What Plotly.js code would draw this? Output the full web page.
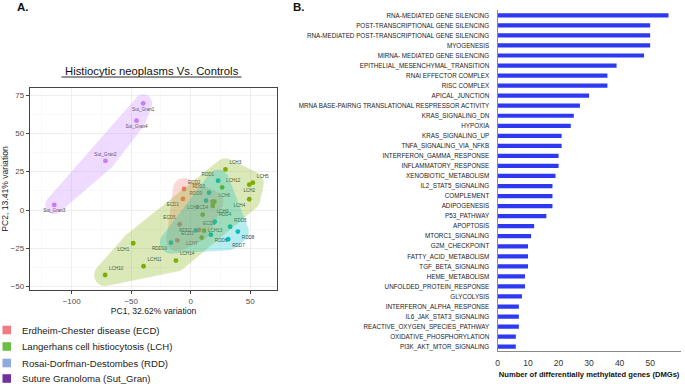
<!DOCTYPE html>
<html><head><meta charset="utf-8">
<script src="https://cdn.plot.ly/plotly-3.0.1.min.js"></script>
<style>html,body{margin:0;padding:0;background:#fff}#chart{width:685px;height:384px}</style>
</head><body><div id="chart"></div>
<script>
// ---------- Panel A data (PCA) ----------
const sampleNames = ['ECD1','ECD2','ECD3','ECD4','ECD5','ECD6',
  'LCH1','LCH2','LCH3','LCH4','LCH5','LCH6','LCH7','LCH8','LCH9','LCH10','LCH11','LCH12','LCH13','LCH14',
  'RDD1','RDD2','RDD3','RDD4','RDD5','RDD6','RDD7','RDD8','RDD9','RDD10',
  'Sut_Gran1','Sut_Gran2','Sut_Gran3','Sut_Gran4'];
const pc1 = [-6.5,-5.6,-11.2,18.2,-9.3,7.0,
  -48.3,49.2,29.2,49.2,52.2,19.9,9.3,10.1,18.5,-71.9,-39.6,26.4,11.2,-12.4,
  23.0,4.2,15.4,20.2,33.1,16.9,31.5,39.6,12.9,-16.6,
  -39.9,-71.6,-114.6,-45.5];
const pc2 = [7.2,13.7,-19.8,5.4,-9.3,-13.0,
  -21.7,16.5,26.5,7.0,17.8,5.4,-18.0,-3.0,2.6,-42.4,-36.7,14.8,-13.5,-33.0,
  19.1,-13.3,11.3,-7.6,-10.9,-16.1,-19.1,-14.1,6.1,-21.3,
  69.6,32.0,3.3,58.3];
const sampleGroup = ['ECD','ECD','ECD','ECD','ECD','ECD',
  'LCH','LCH','LCH','LCH','LCH','LCH','LCH','LCH','LCH','LCH','LCH','LCH','LCH','LCH',
  'RDD','RDD','RDD','RDD','RDD','RDD','RDD','RDD','RDD','RDD',
  'Sut_Gran','Sut_Gran','Sut_Gran','Sut_Gran'];
const labelPos = ['bottom left','top right','top right','bottom left','top left','top right',
  'bottom left','bottom center','top right','bottom left','top right','top right','bottom left','top left','bottom right','top right','top right','top right','middle right','top right',
  'top left','middle left','top left','top right','top right','bottom right','bottom right','bottom right','top left','bottom left',
  'bottom center','top center','bottom center','bottom center'];
const groupNames = ['ECD','LCH','RDD','Sut_Gran'];
const groupColors = ['#F8766D','#7CAE00','#00BFC4','#C77CFF'];
const legendLabels = ['Erdheim-Chester disease (ECD)','Langerhans cell histiocytosis (LCH)','Rosai-Dorfman-Destombes (RDD)','Suture Granoloma (Sut_Gran)'];
const legendColors = ['#F27B82','#6DBE45','#8FAADC','#7030A0'];

// ---------- Panel B data (bars) ----------
const pathways = ['RNA-MEDIATED GENE SILENCING','POST-TRANSCRIPTIONAL GENE SILENCING','RNA-MEDIATED POST-TRANSCRIPTIONAL GENE SILENCING',
  'MYOGENESIS','MIRNA- MEDIATED GENE SILENCING','EPITHELIAL_MESENCHYMAL_TRANSITION','RNAI EFFECTOR COMPLEX','RISC COMPLEX',
  'APICAL_JUNCTION','MRNA BASE-PAIRNG TRANSLATIONAL RESPRESSOR ACTIVITY','KRAS_SIGNALING_DN','HYPOXIA','KRAS_SIGNALING_UP',
  'TNFA_SIGNALING_VIA_NFKB','INTERFERON_GAMMA_RESPONSE','INFLAMMATORY_RESPONSE','XENOBIOTIC_METABOLISM','IL2_STAT5_SIGNALING',
  'COMPLEMENT','ADIPOGENESIS','P53_PATHWAY','APOPTOSIS','MTORC1_SIGNALING','G2M_CHECKPOINT','FATTY_ACID_METABOLISM',
  'TGF_BETA_SIGNALING','HEME_METABOLISM','UNFOLDED_PROTEIN_RESPONSE','GLYCOLYSIS','INTERFERON_ALPHA_RESPONSE',
  'IL6_JAK_STAT3_SIGNALING','REACTIVE_OXYGEN_SPECIES_PATHWAY','OXIDATIVE_PHOSPHORYLATION','PI3K_AKT_MTOR_SIGNALING'];
const dmgCounts = [56,50,50,50,48,39,36,36,30,27,25,24,21,21,20,20,19,18,18,18,16,12,11,10,10,10,9,9,8,7,7,7,6,6];

// ---------- geometry ----------
const W = 685, H = 384;
const pA = {l:30, r:277, t:88, b:290};
const xRangeA = [-135, 72.5], yRangeA = [-52.2, 79.6];
const sx = (pA.r - pA.l) / (xRangeA[1] - xRangeA[0]);
const sy = (pA.b - pA.t) / (yRangeA[1] - yRangeA[0]);
const pB = {l:497.5, r:680.7, t:10, b:350.7};
const hullRadius = {ECD:11, LCH:11, RDD:11, Sut_Gran:9};

function convexHull(pts){
  const p = pts.slice().sort((a,b)=>a[0]-b[0]||a[1]-b[1]);
  const cross=(o,a,b)=>(a[0]-o[0])*(b[1]-o[1])-(a[1]-o[1])*(b[0]-o[0]);
  const lower=[],upper=[];
  for(const q of p){while(lower.length>=2&&cross(lower[lower.length-2],lower[lower.length-1],q)<=0)lower.pop();lower.push(q);}
  for(let i=p.length-1;i>=0;i--){const q=p[i];while(upper.length>=2&&cross(upper[upper.length-2],upper[upper.length-1],q)<=0)upper.pop();upper.push(q);}
  upper.pop();lower.pop();return lower.concat(upper);
}
function expandHull(h, r){
  const out=[]; const n=h.length;
  for(let i=0;i<n;i++){
    const prev=h[(i-1+n)%n], cur=h[i], next=h[(i+1)%n];
    const e1=[cur[0]-prev[0],cur[1]-prev[1]], e2=[next[0]-cur[0],next[1]-cur[1]];
    const a1=Math.atan2(-e1[0], e1[1]), a2=Math.atan2(-e2[0], e2[1]);
    let sweep=a2-a1; while(sweep<0)sweep+=2*Math.PI; while(sweep>=2*Math.PI)sweep-=2*Math.PI;
    const steps=Math.max(2,Math.ceil(sweep/0.15));
    for(let k=0;k<=steps;k++){const a=a1+sweep*k/steps;out.push([cur[0]+r*Math.cos(a),cur[1]+r*Math.sin(a)]);}
  }
  return out;
}
function hexA(h,a){const r=parseInt(h.slice(1,3),16),g=parseInt(h.slice(3,5),16),b=parseInt(h.slice(5,7),16);return `rgba(${r},${g},${b},${a})`;}

const traces = [];
// points + labels
groupNames.forEach((g,gi)=>{
  const idx = sampleGroup.map((s,i)=>s===g?i:-1).filter(i=>i>=0);
  traces.push({type:'scatter',mode:'markers+text',xaxis:'x',yaxis:'y',
    x:idx.map(i=>pc1[i]), y:idx.map(i=>pc2[i]), text:idx.map(i=>sampleNames[i]),
    textposition:idx.map(i=>labelPos[i]),
    textfont:{size:4.6,color:'#3a3a3a',family:'Liberation Sans, Arial'},
    marker:{size:4.8,color:groupColors[gi]}, showlegend:false, hoverinfo:'text', cliponaxis:false});
});
// hulls (expanded convex hulls computed from the sample coordinates)
groupNames.forEach((g,gi)=>{
  const idx = sampleGroup.map((s,i)=>s===g?i:-1).filter(i=>i>=0);
  const pts = idx.map(i=>[pc1[i]*sx, pc2[i]*sy]);
  const ex = expandHull(convexHull(pts), hullRadius[g]);
  ex.push(ex[0]);
  traces.push({type:'scatter',mode:'none',xaxis:'x',yaxis:'y',
    x:ex.map(p=>p[0]/sx), y:ex.map(p=>p[1]/sy), fill:'toself',
    fillcolor:hexA(groupColors[gi],0.28), showlegend:false, hoverinfo:'skip'});
});

// bars
traces.push({type:'bar',orientation:'h',xaxis:'x2',yaxis:'y2',
  x:dmgCounts, y:pathways, width:0.42, marker:{color:'#2D3AF2'}, showlegend:false});

const shapes = [
  {type:'line',xref:'paper',yref:'paper',x0:61.5/W,x1:241.5/W,y0:1-77/H,y1:1-77/H,line:{color:'#111',width:0.9}}
];
const annotations = [
  {text:'<b>A.</b>',xref:'paper',yref:'paper',x:15/W,y:1-7/H,xanchor:'left',yanchor:'middle',showarrow:false,font:{size:11.5,color:'#111',family:'Liberation Sans, Arial'}},
  {text:'<b>B.</b>',xref:'paper',yref:'paper',x:291/W,y:1-7/H,xanchor:'left',yanchor:'middle',showarrow:false,font:{size:11.5,color:'#111',family:'Liberation Sans, Arial'}},
  {text:'Histiocytic neoplasms Vs. Controls',xref:'paper',yref:'paper',x:151.5/W,y:1-71/H,xanchor:'center',yanchor:'middle',showarrow:false,font:{size:11.3,color:'#111',family:'Liberation Sans, Arial'}}
];
const legendY = [330,346.5,363,378.5];
legendLabels.forEach((t,i)=>{
  shapes.push({type:'rect',xref:'paper',yref:'paper',x0:2.5/W,x1:11/W,y0:1-(legendY[i]+4.3)/H,y1:1-(legendY[i]-4.3)/H,fillcolor:legendColors[i],line:{width:0}});
  annotations.push({text:t,xref:'paper',yref:'paper',x:20/W,y:1-legendY[i]/H,xanchor:'left',yanchor:'middle',showarrow:false,font:{size:9.6,color:'#222',family:'Liberation Sans, Arial'}});
});

const layout = {
  width:W,height:H,margin:{l:0,r:0,t:0,b:0},paper_bgcolor:'#fff',plot_bgcolor:'#fff',showlegend:false,
  xaxis:{domain:[pA.l/W,pA.r/W],range:xRangeA,dtick:50,tick0:0,showgrid:true,gridcolor:'#EBEBEB',gridwidth:0.8,
    minor:{showgrid:true,gridcolor:'#F4F4F4',gridwidth:0.5,dtick:25,tick0:25},
    zeroline:false,showline:true,mirror:true,linecolor:'#444',linewidth:1.3,ticks:'outside',ticklen:3,tickcolor:'#444',
    tickfont:{size:8,color:'#4D4D4D',family:'Liberation Sans, Arial'},
    title:{text:'PC1, 32.62% variation',font:{size:8.6,color:'#222',family:'Liberation Sans, Arial'},standoff:2}},
  yaxis:{domain:[1-pA.b/H,1-pA.t/H],range:yRangeA,dtick:25,tick0:0,showgrid:true,gridcolor:'#EBEBEB',gridwidth:0.8,
    minor:{showgrid:true,gridcolor:'#F4F4F4',gridwidth:0.5,dtick:25,tick0:12.5},
    zeroline:false,showline:true,mirror:true,linecolor:'#444',linewidth:1.3,ticks:'outside',ticklen:3,tickcolor:'#444',
    tickfont:{size:8,color:'#4D4D4D',family:'Liberation Sans, Arial'},
    title:{text:'PC2, 13.41% variation',font:{size:8.6,color:'#222',family:'Liberation Sans, Arial'},standoff:2}},
  xaxis2:{domain:[pB.l/W,pB.r/W],anchor:'y2',range:[0,60],dtick:10,showgrid:false,zeroline:false,showline:true,linecolor:'#8a8a8a',linewidth:1,
    ticks:'outside',ticklen:4,tickcolor:'rgba(0,0,0,0)',tickfont:{size:8.5,color:'#333',family:'Liberation Sans, Arial'},
    title:{text:'<b>Number of differentially methylated genes (DMGs)</b>',font:{size:7.6,color:'#111',family:'Liberation Sans, Arial'},standoff:4}},
  yaxis2:{domain:[1-pB.b/H,1-pB.t/H],anchor:'x2',type:'category',range:[pathways.length-0.6,-0.53],showgrid:false,zeroline:false,
    showline:true,linecolor:'#8a8a8a',linewidth:1,ticks:'',ticklabelstandoff:6,
    tickfont:{size:6.3,color:'#222',family:'Liberation Sans Narrow, Arial Narrow, Liberation Sans, Arial'}},
  shapes:shapes,annotations:annotations
};
Plotly.newPlot('chart',traces,layout,{staticPlot:true,displayModeBar:false});
</script></body></html>
